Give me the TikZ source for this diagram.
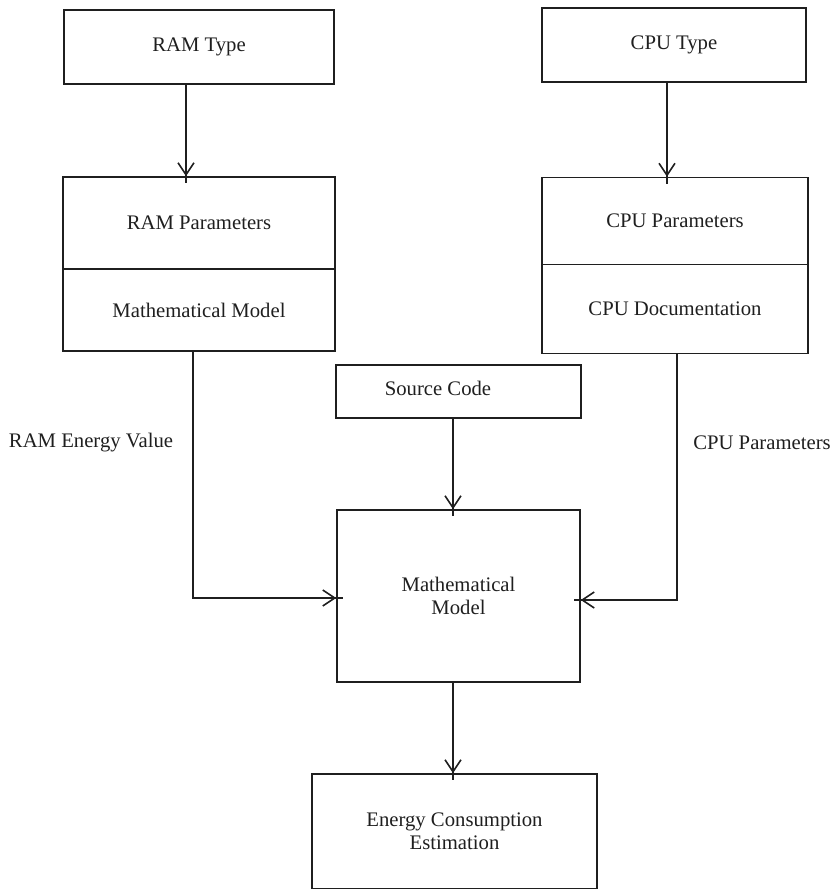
\documentclass[tikz,border=0pt]{standalone}
\usepackage{fontspec}
\setmainfont{Liberation Serif}
\usetikzlibrary{arrows.meta,calc,decorations.markings}
\begin{document}
\begin{tikzpicture}[x=1pt,y=-1pt,
  every node/.style={font=\fontsize{20.7}{23}\selectfont, text=black!88},
  box/.style={draw=black!88, line width=1.6pt, inner sep=0pt, align=center},
  txt/.style={inner sep=0pt, align=center},
  % connector whose barb tip sits 7pt before the end of the line
  arr/.style={draw=black!88, line width=1.6pt, postaction={decorate},
    decoration={markings, mark=at position -7pt with
      {\arrow[black!88]{Straight Barb[length=12pt,width=16pt,line width=1.6pt]}}}}]
  \useasboundingbox (0,0) rectangle (834,889);

  % RAM branch
  \node[box, minimum width=270pt, minimum height=74pt] (ramtype) at (199,47) {RAM Type};
  \node[box, minimum width=272pt, minimum height=92pt] (ramA) at (199,223) {RAM Parameters};
  \node[box, minimum width=272pt, minimum height=82pt] (ramB) at (199,310) {Mathematical Model};

  % CPU branch
  \node[box, minimum width=264pt, minimum height=74pt] (cputype) at (674,45) {CPU Type};
  \node[box, minimum width=266pt, minimum height=87pt] (cpuA) at (675,221) {CPU Parameters};
  \node[box, minimum width=266pt, minimum height=89pt] (cpuB) at (675,309) {CPU Documentation};

  % centre column
  \node[box, minimum width=245pt, minimum height=53pt] (src) at (458.5,391.5) {};
  \node[txt] (srcT) at (438,388) {Source Code};
  \node[box, minimum width=243pt, minimum height=172pt] (math) at (458.5,596) {Mathematical\\Model};
  \node[box, minimum width=285pt, minimum height=115pt] (energy) at (454.5,831.5) {Energy Consumption\\Estimation};

  % edge labels
  \node[txt] (ramlbl) at (91,443) {RAM Energy Value};
  \node[txt] (cpulbl) at (762,443) {CPU Parameters};

  % connectors
  \draw[arr] ($(ramtype.south)+(-13,0)$) -- ($(ramA.north)+(-13,7)$);
  \draw[arr] ($(cputype.south)+(-7,0)$) -- ($(cpuA.north)+(-8,7)$);
  \draw[arr] ($(src.south)+(-5.5,0)$) -- ($(math.north)+(-5.5,7)$);
  \draw[arr] ($(math.south)+(-5.5,0)$) -- ($(energy.north)+(-1.5,7)$);
  \draw[arr] ($(ramB.south)+(-6,0)$) |- ($(math.west)+(7,2)$);
  \draw[arr] ($(cpuB.south)+(2,0)$) |- ($(math.east)+(-7,4)$);
\end{tikzpicture}
\end{document}
